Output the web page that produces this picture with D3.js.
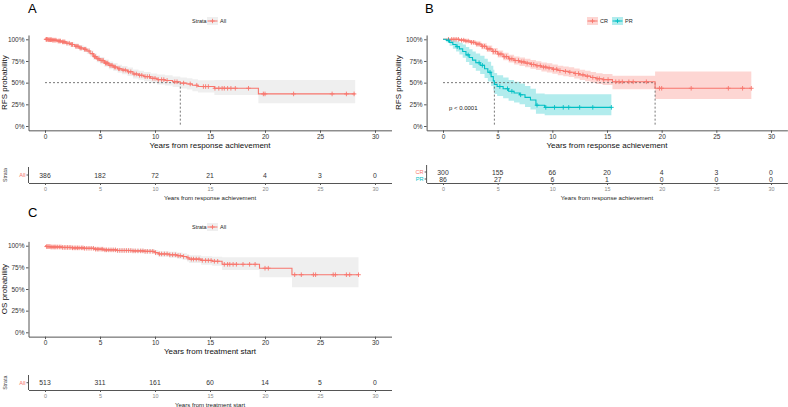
<!DOCTYPE html>
<html><head><meta charset="utf-8">
<script src="https://cdn.jsdelivr.net/npm/d3@7"></script>
<style>body{margin:0;background:#fff} svg{display:block} text{font-family:"Liberation Sans",Arial,sans-serif}</style>
</head><body><svg id="c" width="788" height="407"></svg>
<script>
// ---------- data ----------
const xTicks = [0, 5, 10, 15, 20, 25, 30];
const yTicks = [0, 0.25, 0.5, 0.75, 1];
const yTickLabels = ["0%", "25%", "50%", "75%", "100%"];

// Panel A: RFS, all patients
const aTime  = [0, 0.3, 0.7, 1.1, 1.5, 1.9, 2.3, 2.7, 3.1, 3.5, 3.8, 4.1, 4.4, 4.7, 5.0, 5.4, 5.8, 6.2, 6.6, 7.0, 7.5, 8.0, 8.5, 9.0, 9.6, 10.2, 10.9, 11.6, 12.3, 12.9, 13.4, 13.9, 15.4, 19.4];
const aSurv  = [1, 0.995, 0.99, 0.98, 0.97, 0.955, 0.94, 0.92, 0.90, 0.885, 0.865, 0.835, 0.80, 0.775, 0.755, 0.725, 0.70, 0.68, 0.66, 0.645, 0.625, 0.60, 0.585, 0.57, 0.55, 0.535, 0.525, 0.51, 0.495, 0.485, 0.47, 0.455, 0.435, 0.37];
const aUpper = [1, 1, 1, 0.995, 0.99, 0.978, 0.965, 0.948, 0.93, 0.917, 0.9, 0.872, 0.84, 0.816, 0.797, 0.768, 0.745, 0.726, 0.707, 0.693, 0.675, 0.652, 0.638, 0.624, 0.606, 0.593, 0.585, 0.572, 0.56, 0.552, 0.54, 0.527, 0.53, 0.53];
const aLower = [1, 0.987, 0.978, 0.965, 0.951, 0.932, 0.915, 0.892, 0.87, 0.853, 0.831, 0.798, 0.76, 0.734, 0.713, 0.682, 0.656, 0.634, 0.614, 0.597, 0.576, 0.549, 0.533, 0.516, 0.495, 0.478, 0.466, 0.449, 0.432, 0.42, 0.402, 0.385, 0.357, 0.262];
const aEnd = 28.2;
const aCensor = [0.1,0.15,0.2,0.3,0.4,0.5,0.6,0.7,0.8,0.9,1.0,1.2,1.3,1.4,1.6,1.7,1.8,2.0,2.2,2.4,2.5,2.8,2.9,3.0,3.2,3.3,3.6,3.7,4.0,4.3,4.5,4.6,4.8,4.9,5.1,5.2,5.3,5.5,5.6,5.7,5.9,6.0,6.1,6.3,6.4,6.7,6.8,7.1,7.3,7.6,7.8,8.1,8.3,8.6,8.8,9.1,9.3,9.5,9.8,10.0,10.3,10.6,10.8,11.1,11.8,12.0,12.6,13.2,13.8,14.4,14.6,14.85,15.45,15.8,16.1,16.3,16.6,16.9,17.3,18.5,19.85,20.0,22.6,26.1,27.4,28.1];
const aRisk = [386, 182, 72, 21, 4, 3, 0];

// Panel B: RFS by response (CR / PR)
const crTime  = [0, 1.5, 2.0, 2.5, 3.0, 3.5, 4.0, 4.5, 5.0, 5.5, 6.0, 6.5, 7.0, 7.5, 8.0, 8.5, 9.0, 9.5, 10.0, 10.5, 11.0, 11.5, 12.0, 12.5, 13.0, 13.5, 14.0, 14.6, 15.5, 19.4];
const crSurv  = [1, 0.99, 0.98, 0.965, 0.945, 0.92, 0.89, 0.86, 0.83, 0.80, 0.775, 0.755, 0.74, 0.725, 0.71, 0.695, 0.68, 0.67, 0.655, 0.64, 0.63, 0.62, 0.605, 0.59, 0.575, 0.56, 0.545, 0.535, 0.51, 0.435];
const crUpper = [1, 1, 0.997, 0.99, 0.975, 0.955, 0.928, 0.9, 0.872, 0.845, 0.822, 0.803, 0.789, 0.775, 0.761, 0.747, 0.733, 0.724, 0.71, 0.696, 0.687, 0.678, 0.664, 0.65, 0.636, 0.623, 0.609, 0.6, 0.58, 0.63];
const crLower = [1, 0.978, 0.963, 0.942, 0.916, 0.886, 0.853, 0.821, 0.79, 0.757, 0.731, 0.709, 0.693, 0.677, 0.661, 0.645, 0.629, 0.618, 0.602, 0.586, 0.575, 0.564, 0.548, 0.532, 0.516, 0.5, 0.484, 0.472, 0.425, 0.31];
const crEnd = 28.2;
const crCensor = [0.5,0.8,1.0,1.2,1.4,1.7,1.9,2.1,2.3,2.6,2.8,3.1,3.3,3.6,3.8,4.1,4.3,4.6,4.8,5.1,5.3,5.6,5.8,6.1,6.3,6.6,6.9,7.2,7.4,7.7,8.1,8.3,8.6,8.9,9.2,9.4,9.7,10.1,10.4,10.7,11.2,11.6,12.1,12.4,12.8,13.2,13.7,14.1,14.3,14.7,15.1,15.8,16.1,16.4,17.0,17.4,18.6,19.8,20.0,22.7,26.1,27.4,28.2];
const crRisk = [300, 155, 66, 20, 4, 3, 0];

const prTime  = [0, 0.3, 0.6, 0.9, 1.2, 1.5, 1.8, 2.1, 2.4, 2.7, 3.0, 3.4, 3.8, 4.1, 4.4, 4.6, 4.7, 4.95, 5.5, 6.0, 6.5, 7.0, 7.5, 8.0, 8.5, 9.3];
const prSurv  = [1, 0.988, 0.965, 0.94, 0.915, 0.89, 0.86, 0.82, 0.79, 0.76, 0.73, 0.70, 0.66, 0.62, 0.57, 0.52, 0.48, 0.455, 0.43, 0.40, 0.38, 0.36, 0.33, 0.30, 0.24, 0.215];
const prUpper = [1, 1, 1, 0.99, 0.975, 0.96, 0.94, 0.91, 0.885, 0.86, 0.835, 0.81, 0.775, 0.74, 0.695, 0.65, 0.61, 0.585, 0.56, 0.53, 0.51, 0.49, 0.46, 0.43, 0.375, 0.365];
const prLower = [1, 0.965, 0.926, 0.892, 0.858, 0.825, 0.787, 0.738, 0.703, 0.67, 0.637, 0.6, 0.555, 0.512, 0.46, 0.41, 0.37, 0.345, 0.32, 0.29, 0.27, 0.25, 0.22, 0.19, 0.14, 0.125];
const prEnd = 15.4;
const prCensor = [0.5, 1.3, 2.3, 3.3, 3.6, 4.3, 5.2, 5.9, 6.3, 7.1, 8.6, 9.4, 10.2, 11.0, 11.5, 12.5, 13.7, 15.4];
const prRisk = [86, 27, 6, 1, 0, 0, 0];
const pValueText = "p < 0.0001";

// Panel C: OS, all patients
const cTime  = [0, 0.1, 0.5, 1.5, 2.5, 3.5, 4.5, 5.3, 6.5, 8.0, 9.0, 10.0, 10.3, 11.3, 12.0, 12.5, 12.9, 13.1, 14.2, 15.2, 16.1, 19.5, 22.45];
const cSurv  = [1, 0.99, 0.985, 0.98, 0.975, 0.97, 0.96, 0.952, 0.945, 0.94, 0.935, 0.92, 0.905, 0.895, 0.885, 0.875, 0.86, 0.845, 0.83, 0.82, 0.785, 0.74, 0.665];
const cUpper = [1, 0.999, 0.996, 0.993, 0.99, 0.987, 0.98, 0.973, 0.968, 0.965, 0.961, 0.95, 0.937, 0.929, 0.922, 0.914, 0.902, 0.89, 0.879, 0.872, 0.868, 0.866, 0.866];
const cLower = [1, 0.98, 0.974, 0.967, 0.96, 0.953, 0.94, 0.931, 0.922, 0.915, 0.909, 0.89, 0.873, 0.861, 0.848, 0.836, 0.818, 0.8, 0.781, 0.768, 0.72, 0.635, 0.52];
const cEnd = 28.5;
const cCensor = [0.15,0.25,0.35,0.45,0.55,0.65,0.8,0.9,1.0,1.15,1.3,1.45,1.6,1.75,1.9,2.05,2.2,2.35,2.5,2.65,2.8,2.95,3.1,3.3,3.45,3.6,3.8,4.0,4.2,4.4,4.6,4.75,4.9,5.1,5.25,5.45,5.6,5.8,6.0,6.2,6.4,6.6,6.8,7.0,7.2,7.4,7.6,7.8,8.0,8.2,8.45,8.7,8.9,9.1,9.3,9.55,9.8,10.05,10.4,10.6,10.85,11.1,11.35,11.6,11.85,12.1,12.3,12.6,13.0,13.3,13.5,13.75,14.0,14.3,14.6,14.85,15.1,15.4,15.7,16.3,16.6,16.8,17.1,17.4,18.0,18.6,19.1,20.0,20.3,22.7,23.3,24.4,24.6,26.2,26.4,27.4,27.7,28.5];
const cRisk = [513, 311, 161, 60, 14, 5, 0];

// ---------- drawing ----------
const RED = "#F8766D", CYAN = "#00BFC4";
const svg = d3.select("#c");
const FONT = "Liberation Sans, Arial, sans-serif";

function survAt(time, surv, t) {
  let i = d3.bisectRight(time, t) - 1;
  return surv[Math.max(0, i)];
}

function drawPanel(cfg) {
  const g = svg.append("g");
  const x = d3.scaleLinear([-1.5, 31.5], [cfg.x0 - 1.5 * cfg.kx, cfg.x0 + 31.5 * cfg.kx]);
  const y = d3.scaleLinear([-0.05, 1.05], [cfg.y0 + 0.05 * cfg.ky, cfg.y0 - 1.05 * cfg.ky]);

  // bands
  cfg.strata.forEach(s => {
    const pts = s.time.map((t, i) => ({t, lo: s.lower[i], hi: s.upper[i]}));
    pts.push({t: s.end, lo: s.lower[s.lower.length - 1], hi: s.upper[s.upper.length - 1]});
    g.append("path").datum(pts)
      .attr("d", d3.area().curve(d3.curveStepAfter).x(d => x(d.t)).y0(d => y(d.lo)).y1(d => y(d.hi)))
      .attr("fill", s.band);
  });

  // median lines (only where the curve reaches 50%)
  const meds = cfg.strata.map(s => {
    const k = s.surv.findIndex(v => v <= 0.5);
    return k >= 0 ? s.time[k] : null;
  }).filter(v => v !== null);
  if (meds.length) {
    const dash = {stroke: "#555", "stroke-width": 0.8, "stroke-dasharray": "2,2"};
    const hl = g.append("line").attr("x1", x(0)).attr("x2", x(d3.max(meds))).attr("y1", y(0.5)).attr("y2", y(0.5));
    Object.entries(dash).forEach(([k, v]) => hl.attr(k, v));
    meds.forEach(m => {
      const vl = g.append("line").attr("x1", x(m)).attr("x2", x(m)).attr("y1", y(0.5)).attr("y2", y(0));
      Object.entries(dash).forEach(([k, v]) => vl.attr(k, v));
    });
  }

  // curves + censor marks
  cfg.strata.forEach(s => {
    const pts = s.time.map((t, i) => ({t, v: s.surv[i]}));
    pts.push({t: s.end, v: s.surv[s.surv.length - 1]});
    g.append("path").datum(pts)
      .attr("d", d3.line().curve(d3.curveStepAfter).x(d => x(d.t)).y(d => y(d.v)))
      .attr("fill", "none").attr("stroke", s.color).attr("stroke-width", 1.1);
    const cm = g.append("g").attr("stroke", s.color).attr("stroke-width", 0.9);
    s.censor.forEach(c => {
      const cx = x(c), cy = y(survAt(s.time, s.surv, c));
      cm.append("path").attr("d", `M${cx - 2.3},${cy}H${cx + 2.3}M${cx},${cy - 2.3}V${cy + 2.3}`);
    });
  });

  // axes
  const ax = g.append("g").attr("transform", `translate(0,${y(-0.05)})`)
    .call(d3.axisBottom(x).tickValues(xTicks).tickSize(2.5).tickSizeOuter(0).tickPadding(1.2));
  const ay = g.append("g").attr("transform", `translate(${x(-1.5)},0)`)
    .call(d3.axisLeft(y).tickValues(yTicks).tickFormat((d, i) => yTickLabels[i]).tickSize(2.5).tickSizeOuter(0).tickPadding(1.5));
  [ax, ay].forEach(a => {
    a.select(".domain").attr("stroke", "#555").attr("stroke-width", 1);
    a.selectAll(".tick line").attr("stroke", "#555");
    a.selectAll(".tick text").attr("fill", "#333").attr("font-size", 6.5).attr("font-family", FONT);
  });

  // titles
  g.append("text").attr("x", (x(-1.5) + x(31.5)) / 2).attr("y", cfg.y0 + 22)
    .attr("text-anchor", "middle").attr("font-size", 8).attr("fill", "#111").text(cfg.xTitle);
  g.append("text").attr("transform", `translate(${cfg.yTitleX},${(y(-0.05) + y(1.05)) / 2}) rotate(-90)`)
    .attr("text-anchor", "middle").attr("dominant-baseline", "central").attr("font-size", 8).attr("fill", "#111").text(cfg.yTitle);
  g.append("text").attr("x", cfg.letterX).attr("y", cfg.letterY).attr("font-size", 13).attr("fill", "#000").text(cfg.letter);

  if (cfg.pText) {
    g.append("text").attr("x", x(0.55)).attr("y", y(0.21)).attr("dominant-baseline", "central")
      .attr("font-size", 6).attr("fill", "#222").text(cfg.pText);
  }

  // legend
  const lg = g.append("g").attr("font-size", 5.5).attr("fill", "#222");
  let lx = cfg.legendX;
  const ly = cfg.legendY;
  if (cfg.legendTitle) {
    lg.append("text").attr("x", lx).attr("y", ly).attr("dominant-baseline", "central").text(cfg.legendTitle);
    lx += 15;
  }
  cfg.strata.forEach(s => {
    lg.append("rect").attr("x", lx).attr("y", ly - 4).attr("width", 11).attr("height", 8).attr("fill", s.legendBand);
    lg.append("line").attr("x1", lx + 0.5).attr("x2", lx + 10.5).attr("y1", ly).attr("y2", ly).attr("stroke", s.color).attr("stroke-width", 1);
    lg.append("path").attr("d", `M${lx + 3.3},${ly}H${lx + 7.7}M${lx + 5.5},${ly - 2.2}V${ly + 2.2}`).attr("stroke", s.color).attr("stroke-width", 0.9);
    lg.append("text").attr("x", lx + 13).attr("y", ly).attr("dominant-baseline", "central").text(s.name);
    lx += 13 + s.name.length * 4 + 4;
  });

  // risk table
  const rt = svg.append("g");
  const rowY = cfg.riskRows;
  const axisY = cfg.riskAxisY;
  rt.append("line").attr("x1", x(-1.5)).attr("x2", x(-1.5)).attr("y1", cfg.riskTop).attr("y2", axisY).attr("stroke", "#555");
  const rax = rt.append("g").attr("transform", `translate(0,${axisY})`)
    .call(d3.axisBottom(x).tickValues(xTicks).tickSize(2).tickSizeOuter(0).tickPadding(1.8));
  rax.select(".domain").attr("stroke", "#555");
  rax.selectAll(".tick line").attr("stroke", "#555");
  rax.selectAll(".tick text").attr("fill", "#888").attr("font-size", 5.4).attr("font-family", FONT);
  cfg.strata.forEach((s, k) => {
    const ry = rowY[k];
    rt.append("line").attr("x1", x(-1.5) - 2).attr("x2", x(-1.5)).attr("y1", ry).attr("y2", ry).attr("stroke", "#555");
    rt.append("text").attr("x", x(-1.5) - 3).attr("y", ry).attr("text-anchor", "end").attr("dominant-baseline", "central")
      .attr("font-size", 5.6).attr("fill", s.color).text(s.name);
    rt.selectAll(null).data(s.risk).join("text")
      .attr("x", (d, i) => x(xTicks[i])).attr("y", ry).attr("text-anchor", "middle").attr("dominant-baseline", "central")
      .attr("font-size", 6.8).attr("fill", "#333").text(d => d);
  });
  if (cfg.riskStrataTitle) {
    rt.append("text").attr("transform", `translate(${cfg.yTitleX},${d3.mean(rowY)}) rotate(-90)`)
      .attr("text-anchor", "middle").attr("dominant-baseline", "central").attr("font-size", 5.3).attr("fill", "#333").text("Strata");
  }
  rt.append("text").attr("x", (x(-1.5) + x(31.5)) / 2).attr("y", axisY + 17)
    .attr("text-anchor", "middle").attr("font-size", 6.1).attr("fill", "#222").text(cfg.xTitle);
}

drawPanel({
  x0: 45, kx: 11, y0: 126, ky: 86.7, letter: "A", letterX: 28, letterY: 13,
  xTitle: "Years from response achievement", yTitle: "RFS probability", yTitleX: 4.5,
  legendTitle: "Strata", legendX: 192, legendY: 21,
  strata: [{name: "All", time: aTime, surv: aSurv, upper: aUpper, lower: aLower, end: aEnd, censor: aCensor,
            risk: aRisk, color: RED, band: "#efefef", legendBand: "#efefef"}],
  riskRows: [175], riskTop: 167, riskAxisY: 183, riskStrataTitle: true
});

drawPanel({
  x0: 443, kx: 10.933, y0: 126, ky: 86.7, letter: "B", letterX: 425, letterY: 13,
  xTitle: "Years from response achievement", yTitle: "RFS probability", yTitleX: 398.5,
  legendTitle: null, legendX: 587, legendY: 21, pText: pValueText,
  strata: [
    {name: "CR", time: crTime, surv: crSurv, upper: crUpper, lower: crLower, end: crEnd, censor: crCensor,
     risk: crRisk, color: RED, band: "rgba(248,118,109,0.3)", legendBand: "rgba(248,118,109,0.3)"},
    {name: "PR", time: prTime, surv: prSurv, upper: prUpper, lower: prLower, end: prEnd, censor: prCensor,
     risk: prRisk, color: CYAN, band: "rgba(0,191,196,0.3)", legendBand: "rgba(0,191,196,0.3)"}
  ],
  riskRows: [172, 179], riskTop: 165, riskAxisY: 183, riskStrataTitle: false
});

drawPanel({
  x0: 45, kx: 11, y0: 332.3, ky: 86.6, letter: "C", letterX: 28, letterY: 217,
  xTitle: "Years from treatment start", yTitle: "OS probability", yTitleX: 4.5,
  legendTitle: "Strata", legendX: 192, legendY: 227,
  strata: [{name: "All", time: cTime, surv: cSurv, upper: cUpper, lower: cLower, end: cEnd, censor: cCensor,
            risk: cRisk, color: RED, band: "#efefef", legendBand: "#efefef"}],
  riskRows: [382.7], riskTop: 375, riskAxisY: 390, riskStrataTitle: true
});
</script></body></html>
